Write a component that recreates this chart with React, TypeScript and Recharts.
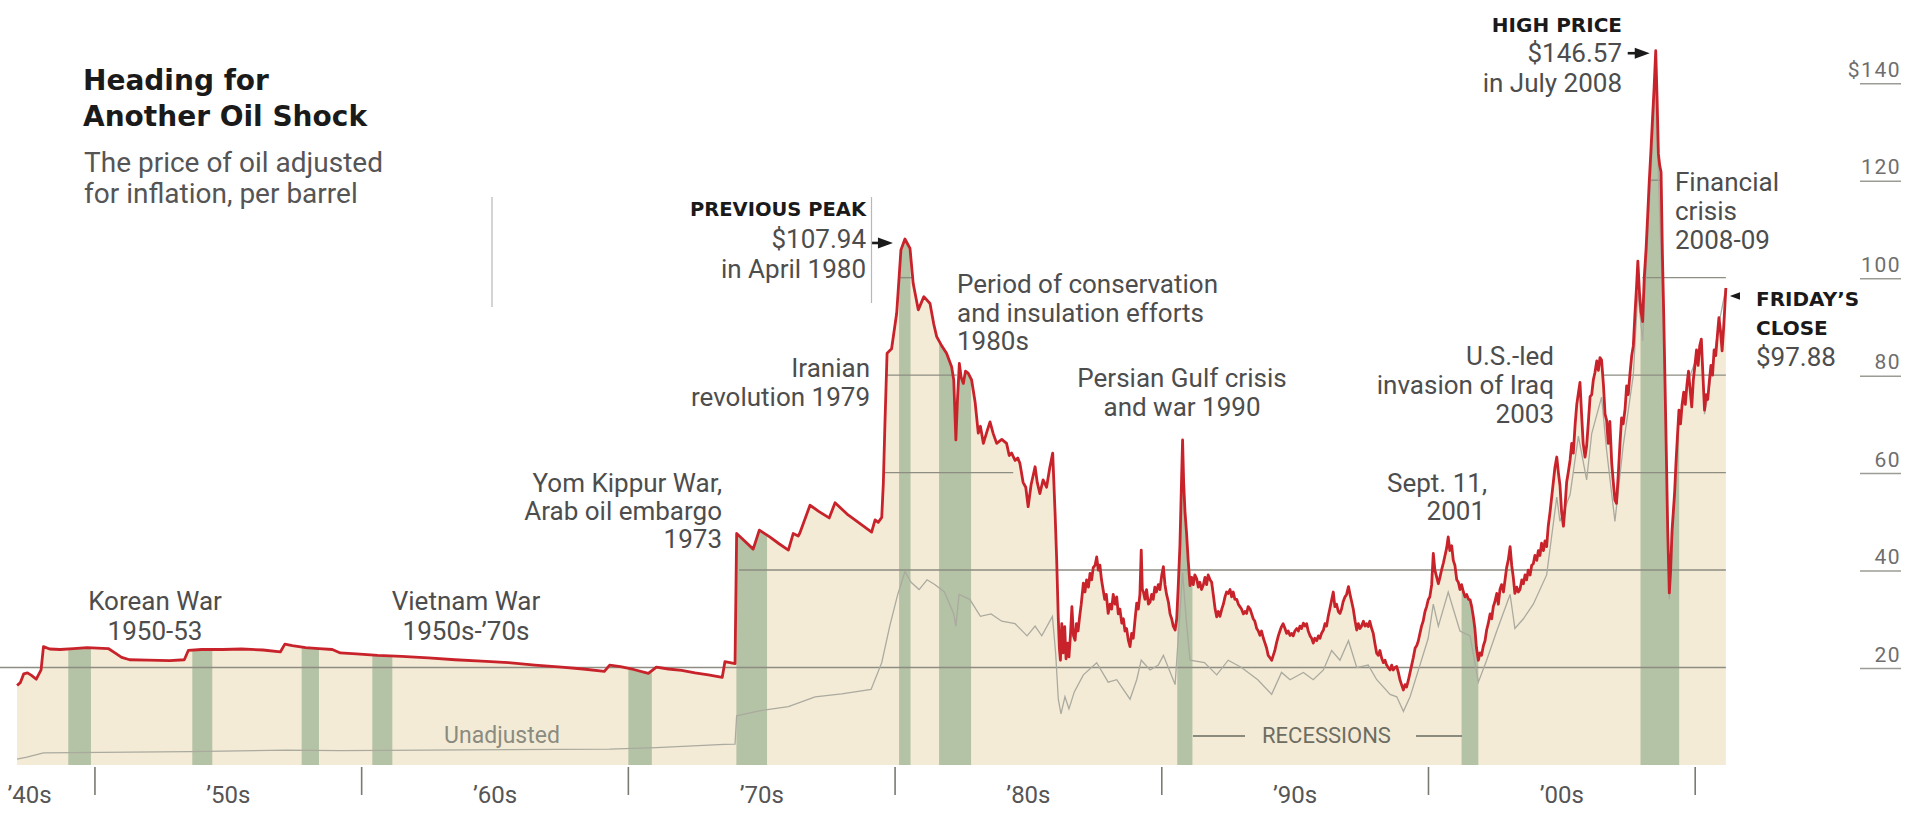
import React from 'react';
import { ComposedChart, Area, Line, XAxis, YAxis } from 'recharts';

type Pt = [number, number];

// Oil price per barrel adjusted for inflation (2011 dollars): [year, price]
const adjusted1947to1973: Pt[] = [
  [1947.08, 16.3], [1947.2, 16.9], [1947.33, 18.7], [1947.47, 18.9], [1947.62, 18.4], [1947.8, 17.6],
  [1947.98, 19.5], [1948.07, 24.3], [1948.3, 23.8], [1948.7, 23.7], [1949.2, 23.9], [1949.7, 24.1],
  [1950.1, 24.0], [1950.5, 23.9], [1950.75, 23.0], [1951.0, 22.1], [1951.3, 21.6], [1952.0, 21.5],
  [1952.8, 21.4], [1953.35, 21.6], [1953.5, 23.5], [1954.0, 23.7], [1954.8, 23.7], [1955.5, 23.8],
  [1956.3, 23.6], [1956.95, 23.2], [1957.12, 24.8], [1957.4, 24.5], [1957.9, 24.1], [1958.4, 23.9],
  [1958.9, 23.7], [1959.2, 23.0], [1959.8, 22.8], [1960.6, 22.5], [1961.5, 22.3], [1962.5, 22.0],
  [1963.5, 21.6], [1964.5, 21.3], [1965.5, 21.0], [1966.5, 20.5], [1967.5, 20.1], [1968.3, 19.7],
  [1969.1, 19.2], [1969.3, 20.5], [1969.7, 20.2], [1970.2, 19.6], [1970.75, 18.8], [1971.05, 20.1],
  [1971.5, 19.7], [1972.0, 19.4], [1972.5, 18.9], [1973.0, 18.5], [1973.52, 18.0], [1973.62, 21.2],
  [1974.0, 20.8],
];

const adjusted1974to1985: Pt[] = [
  [1974.06, 47.5], [1974.35, 46.0], [1974.68, 44.3], [1974.91, 48.2], [1975.3, 46.8], [1975.65, 45.4],
  [1976.0, 44.1], [1976.18, 47.5], [1976.37, 47.0], [1976.43, 47.6], [1976.81, 53.3], [1977.15, 52.0],
  [1977.53, 50.7], [1977.75, 53.8], [1978.2, 51.5], [1978.7, 49.5], [1979.12, 47.8], [1979.25, 50.3],
  [1979.37, 49.8], [1979.5, 50.8], [1979.56, 57.8], [1979.62, 70.0], [1979.7, 84.5], [1979.87, 85.4],
  [1980.06, 92.7], [1980.22, 105.7], [1980.37, 107.94], [1980.48, 106.8], [1980.56, 106.0], [1980.68, 98.8],
  [1980.87, 93.4], [1981.08, 96.1], [1981.31, 94.7], [1981.45, 90.5], [1981.56, 87.9], [1981.75, 86.0],
  [1981.93, 84.5], [1982.12, 81.7], [1982.2, 79.0], [1982.28, 66.7], [1982.34, 75.0], [1982.41, 82.4],
  [1982.48, 79.5], [1982.56, 78.3], [1982.64, 80.8], [1982.74, 80.4], [1982.87, 79.0], [1983.0, 74.5],
  [1983.12, 68.1], [1983.2, 69.5], [1983.31, 66.0], [1983.45, 68.5], [1983.56, 70.4], [1983.68, 68.0],
  [1983.81, 66.0], [1984.0, 66.8], [1984.18, 66.0], [1984.28, 63.5], [1984.37, 64.0], [1984.5, 62.5],
  [1984.6, 63.0], [1984.68, 61.9], [1984.8, 58.0], [1984.9, 57.0], [1984.99, 53.0], [1985.1, 57.5],
  [1985.25, 61.2], [1985.33, 58.0], [1985.43, 55.7], [1985.55, 58.5], [1985.68, 57.0], [1985.8, 61.0],
  [1985.91, 64.0], [1986.0, 51.6],
];

const adjusted1986to1999: Pt[] = [
  [1986.06, 42], [1986.12, 30], [1986.16, 24], [1986.2, 21.5], [1986.25, 29], [1986.3, 23], [1986.36, 28.4],
  [1986.41, 21.8], [1986.47, 25], [1986.52, 22.2], [1986.58, 27], [1986.63, 32.5], [1986.69, 26.5],
  [1986.75, 25.6], [1986.8, 29], [1986.86, 27.5], [1986.92, 30.4], [1986.98, 33], [1987.06, 37.3],
  [1987.12, 35.5], [1987.18, 38], [1987.25, 36.5], [1987.31, 39.3], [1987.37, 38], [1987.43, 40.5],
  [1987.5, 41], [1987.56, 42.7], [1987.62, 40], [1987.68, 41], [1987.74, 38], [1987.8, 36], [1987.86, 34],
  [1987.92, 35], [1987.99, 31.1], [1988.06, 33], [1988.12, 32], [1988.18, 35], [1988.25, 33], [1988.31, 34.5],
  [1988.37, 31], [1988.43, 32], [1988.5, 29.1], [1988.56, 30], [1988.62, 27.5], [1988.68, 28], [1988.75, 25.5],
  [1988.81, 24.3], [1988.87, 27], [1988.93, 26], [1989.0, 30], [1989.06, 33.2], [1989.12, 32], [1989.18, 35],
  [1989.23, 44.1], [1989.27, 36], [1989.31, 35.5], [1989.37, 34], [1989.43, 36], [1989.5, 33], [1989.56, 33.4],
  [1989.62, 35], [1989.68, 34], [1989.74, 36.5], [1989.8, 35.5], [1989.87, 37], [1989.93, 36], [1990.0, 39],
  [1990.06, 40.7], [1990.12, 37], [1990.18, 35], [1990.25, 33.4], [1990.31, 31], [1990.37, 30], [1990.43, 28.5],
  [1990.5, 27.7], [1990.56, 30], [1990.62, 37], [1990.68, 45], [1990.73, 56], [1990.78, 66.7], [1990.82, 58],
  [1990.87, 52], [1990.93, 47.5], [1990.99, 42], [1991.06, 36.8], [1991.12, 38.5], [1991.18, 37], [1991.24, 39],
  [1991.31, 38.2], [1991.37, 36.5], [1991.43, 37.5], [1991.49, 36], [1991.56, 37], [1991.62, 38.5], [1991.68, 37],
  [1991.74, 39], [1991.81, 38], [1991.87, 37.5], [1991.93, 35], [1992.0, 32], [1992.06, 30.4], [1992.12, 31.5],
  [1992.18, 30.5], [1992.25, 32], [1992.31, 33], [1992.37, 34.5], [1992.43, 35.5], [1992.49, 35.2], [1992.56, 36],
  [1992.62, 34.5], [1992.68, 35.5], [1992.74, 34], [1992.81, 34], [1992.87, 33], [1992.93, 32.5], [1992.99, 32],
  [1993.06, 31], [1993.12, 31.5], [1993.18, 31.1], [1993.24, 32.5], [1993.31, 32], [1993.37, 31], [1993.43, 30],
  [1993.49, 29.5], [1993.56, 28], [1993.62, 27.5], [1993.68, 26.6], [1993.74, 27.5], [1993.81, 26], [1993.87, 25],
  [1993.93, 24], [1993.99, 22.5], [1994.06, 22], [1994.12, 21.5], [1994.18, 22.5], [1994.24, 23.5], [1994.3, 25],
  [1994.37, 26.5], [1994.43, 27.5], [1994.49, 28.4], [1994.55, 29], [1994.62, 28], [1994.68, 27], [1994.74, 27.5],
  [1994.81, 26.6], [1994.87, 27], [1994.93, 26.5], [1994.99, 27.5], [1995.06, 28], [1995.12, 27.5], [1995.18, 28.5],
  [1995.24, 28], [1995.31, 29.1], [1995.37, 28.5], [1995.43, 29], [1995.49, 27.5], [1995.56, 26.5], [1995.62, 26],
  [1995.68, 25], [1995.74, 26], [1995.81, 25.5], [1995.87, 26.5], [1995.93, 26], [1995.99, 27], [1996.06, 27.7],
  [1996.12, 29], [1996.18, 28.5], [1996.24, 30.5], [1996.3, 32], [1996.37, 33.9], [1996.43, 35.5], [1996.49, 32.5],
  [1996.55, 33], [1996.62, 31.5], [1996.68, 31.1], [1996.74, 32], [1996.8, 33.5], [1996.87, 34.5], [1996.93, 35],
  [1997.0, 36.6], [1997.06, 35], [1997.12, 33.5], [1997.18, 32], [1997.25, 29.5], [1997.31, 27.7], [1997.37, 29],
  [1997.43, 28], [1997.49, 28.5], [1997.56, 29.5], [1997.62, 28.5], [1997.68, 29], [1997.74, 28.4], [1997.8, 29.5],
  [1997.87, 28], [1997.93, 27], [1997.99, 25], [1998.06, 22.9], [1998.12, 22.5], [1998.18, 23.5], [1998.24, 22],
  [1998.31, 21], [1998.37, 21.5], [1998.43, 20.5], [1998.49, 20], [1998.56, 19.5], [1998.62, 20.5], [1998.68, 19.5],
  [1998.74, 20], [1998.81, 20.2], [1998.87, 19], [1998.93, 17.5], [1998.99, 16.5], [1999.06, 15.4], [1999.12, 16.5],
  [1999.18, 16], [1999.25, 17.5], [1999.31, 19], [1999.37, 20.5], [1999.43, 22], [1999.5, 24], [1999.56, 24.5],
  [1999.62, 25.5], [1999.68, 27], [1999.74, 28.5], [1999.8, 29.5], [1999.87, 31.5], [1999.93, 32.5], [1999.99, 33.9],
];

const adjusted2000to2011: Pt[] = [
  [2000.05, 34.5], [2000.12, 37], [2000.18, 43.4], [2000.24, 40], [2000.31, 38.5], [2000.37, 37.2], [2000.43, 38.5],
  [2000.49, 40], [2000.56, 41.5], [2000.62, 43], [2000.68, 44.5], [2000.74, 46.8], [2000.8, 44], [2000.87, 45],
  [2000.93, 42], [2000.99, 41], [2001.06, 38], [2001.12, 37.5], [2001.18, 36], [2001.24, 37], [2001.31, 35.5],
  [2001.37, 34.5], [2001.43, 35], [2001.5, 34], [2001.56, 33.9], [2001.62, 32.5], [2001.68, 30.5], [2001.74, 28],
  [2001.8, 24], [2001.87, 21.5], [2001.93, 23], [2001.99, 22.5], [2002.06, 24.5], [2002.12, 25.5], [2002.18, 27.7],
  [2002.24, 29], [2002.31, 31], [2002.37, 30], [2002.43, 32.5], [2002.49, 33.5], [2002.56, 35.2], [2002.62, 33],
  [2002.68, 36], [2002.74, 37], [2002.81, 35.5], [2002.87, 38], [2002.93, 40.5], [2002.99, 42], [2003.06, 44.8],
  [2003.12, 41], [2003.18, 38.5], [2003.24, 35.2], [2003.31, 36.5], [2003.37, 35.5], [2003.43, 36], [2003.5, 38],
  [2003.56, 37.2], [2003.62, 39], [2003.68, 38], [2003.74, 40], [2003.81, 39], [2003.87, 41], [2003.93, 41.3],
  [2003.99, 43], [2004.06, 42], [2004.12, 44], [2004.18, 43], [2004.24, 45.5], [2004.31, 44], [2004.37, 46],
  [2004.43, 44.8], [2004.49, 49], [2004.56, 52], [2004.62, 55], [2004.68, 58], [2004.74, 61], [2004.81, 63.2],
  [2004.87, 60], [2004.93, 57.4], [2004.99, 52], [2005.06, 49], [2005.12, 53], [2005.18, 58], [2005.24, 60],
  [2005.31, 62.6], [2005.37, 66], [2005.43, 64], [2005.5, 70], [2005.56, 74], [2005.62, 76.3], [2005.68, 78.5],
  [2005.74, 72], [2005.8, 66], [2005.87, 63.2], [2005.93, 65.5], [2005.99, 70], [2006.06, 75.6], [2006.12, 76],
  [2006.18, 79], [2006.24, 80.5], [2006.31, 82.9], [2006.37, 81], [2006.43, 83.6], [2006.49, 83.1], [2006.56, 78],
  [2006.62, 72], [2006.68, 70.7], [2006.74, 66], [2006.8, 70.5], [2006.87, 62], [2006.93, 58], [2006.99, 54.4],
  [2007.05, 53.7], [2007.12, 60], [2007.18, 66], [2007.24, 71.2], [2007.3, 70], [2007.37, 73], [2007.43, 77.8],
  [2007.49, 76], [2007.55, 80], [2007.62, 84], [2007.68, 86], [2007.74, 92.4], [2007.8, 98], [2007.85, 103.4],
  [2007.91, 97], [2007.97, 93], [2008.03, 91], [2008.09, 100], [2008.16, 106], [2008.22, 112.9], [2008.28, 120],
  [2008.34, 126], [2008.4, 132.6], [2008.46, 139], [2008.52, 146.57], [2008.57, 137], [2008.62, 125.4],
  [2008.67, 123], [2008.72, 121.7], [2008.77, 105], [2008.82, 92.5], [2008.87, 78], [2008.92, 63.3], [2008.97, 48],
  [2009.03, 35.3], [2009.08, 40], [2009.13, 48], [2009.18, 52], [2009.23, 56], [2009.28, 62], [2009.33, 67],
  [2009.39, 72.8], [2009.45, 70], [2009.51, 74], [2009.57, 76.5], [2009.63, 74], [2009.69, 78], [2009.75, 80.8],
  [2009.81, 77], [2009.87, 73.5], [2009.93, 79], [2009.99, 82], [2010.05, 85.2], [2010.11, 82], [2010.17, 86],
  [2010.23, 87.4], [2010.29, 80], [2010.35, 72.8], [2010.41, 76], [2010.47, 75], [2010.53, 78.7], [2010.59, 82],
  [2010.65, 80], [2010.71, 85.2], [2010.77, 84], [2010.83, 88], [2010.89, 91.8], [2010.95, 89], [2011.01, 85],
  [2011.07, 90], [2011.15, 97.88],
];

// Nominal price per barrel, not adjusted for inflation: [year, price]
const unadjustedPrice: Pt[] = [
  [1947.08, 1.2], [1947.45, 1.6], [1948.07, 2.5], [1953.5, 2.75], [1957.15, 3.05], [1959.2, 2.95],
  [1969.3, 3.25], [1971.05, 3.55], [1973.6, 4.25], [1974.0, 4.3], [1974.06, 10.1], [1975.0, 11.2],
  [1976.0, 12.0], [1977.0, 14.0], [1978.0, 14.6], [1979.1, 15.5], [1979.5, 21], [1979.8, 28.5],
  [1980.1, 35], [1980.37, 39.7], [1980.6, 37.5], [1980.9, 36], [1981.2, 38], [1981.5, 37], [1981.85, 35.5],
  [1982.2, 31], [1982.28, 28.5], [1982.4, 35], [1982.8, 34], [1983.2, 30.5], [1983.6, 31], [1984.0, 29.5],
  [1984.5, 29], [1984.95, 26.5], [1985.25, 28.5], [1985.5, 26.5], [1985.9, 30.5], [1986.02, 23], [1986.12, 13.5],
  [1986.22, 10.5], [1986.37, 14], [1986.52, 11.5], [1986.72, 15], [1987.06, 18.5], [1987.56, 21], [1987.99, 17],
  [1988.31, 17.5], [1988.81, 13.5], [1989.06, 17.5], [1989.23, 21.5], [1989.56, 19.5], [1989.87, 20.5],
  [1990.06, 22.5], [1990.5, 16.5], [1990.78, 39.5], [1990.93, 29], [1991.06, 21.5], [1991.6, 21], [1992.06, 18.5],
  [1992.49, 21.5], [1992.99, 20], [1993.6, 17.5], [1994.12, 14.5], [1994.49, 19], [1994.81, 17.5], [1995.31, 19],
  [1995.68, 17.5], [1996.06, 19.5], [1996.37, 23.5], [1996.68, 21.5], [1997.0, 25.5], [1997.31, 20], [1997.74, 20.5],
  [1998.06, 17.5], [1998.56, 14.5], [1998.81, 14], [1999.06, 11], [1999.31, 14], [1999.68, 20.5], [1999.99, 26],
  [2000.18, 33], [2000.37, 28.5], [2000.74, 35.5], [2000.93, 32], [2001.18, 27.5], [2001.56, 26.5], [2001.87, 17],
  [2002.18, 21.5], [2002.56, 27.5], [2003.06, 35], [2003.24, 28], [2003.56, 30], [2003.93, 33], [2004.43, 39],
  [2004.81, 55], [2004.93, 50], [2005.31, 55.5], [2005.62, 67.5], [2005.93, 58.5], [2006.12, 68], [2006.49, 75.5],
  [2006.68, 64.5], [2006.99, 50], [2007.3, 65.5], [2007.68, 80], [2007.85, 97], [2008.03, 87], [2008.22, 108.5],
  [2008.4, 128], [2008.52, 141.5], [2008.62, 121], [2008.82, 89], [2008.92, 61], [2009.03, 34], [2009.23, 54.5],
  [2009.39, 71], [2009.57, 74.5], [2009.75, 79], [2010.05, 83.5], [2010.23, 86], [2010.35, 72],
  [2010.53, 77.5], [2010.71, 84], [2010.89, 90.5], [2011.15, 97.88],
];

// Recessions: [start year, end year]
const recessions: Pt[] = [
  [1949.0, 1949.85], [1953.65, 1954.4], [1957.75, 1958.4], [1960.4, 1961.15], [1970.0, 1970.88],
  [1974.05, 1975.2], [1980.15, 1980.58], [1981.65, 1982.85], [1990.58, 1991.15], [2001.24, 2001.87],
  [2007.95, 2009.4],
];

// Horizontal price rules: [price level, from year, to year]
const priceRules: [number, number, number][] = [
  [20, 1946.44, 2011.15], [40, 1974.15, 2011.15], [60, 1979.62, 1984.43], [60, 2005.43, 2011.15],
  [80, 1979.68, 1982.31], [80, 2006.58, 2011.15], [100, 1980.15, 1980.63], [100, 2008.02, 2011.15],
  [120, 2008.28, 2008.72],
];

const priceTicks = [20, 40, 60, 80, 100, 120, 140];
const decadeMarks = [1950, 1960, 1970, 1980, 1990, 2000, 2010];
const decadeLabels = [
  { year: 1947.55, text: '’40s' }, { year: 1955, text: '’50s' }, { year: 1965, text: '’60s' },
  { year: 1975, text: '’70s' }, { year: 1985, text: '’80s' }, { year: 1995, text: '’90s' },
  { year: 2005, text: '’00s' },
];

const YEAR_MIN = 1946.44;
const YEAR_MAX = 2011.68;
const PRICE_MAX = 150;

const RED = '#c8232b';
const BEIGE = '#f4ebd7';
const SAGE = '#b4c2a5';
const RULE = '#8d8d82';
const TEXT = '#4d4d4d';
const SANS = 'Roboto, "Noto Sans", sans-serif';
const BOLD = '"DejaVu Sans", Roboto, sans-serif';

const toRows = (pts: Pt[]) => pts.map(([year, price]) => ({ year, price }));
const adjustedRows = toRows([...adjusted1947to1973, ...adjusted1974to1985, ...adjusted1986to1999, ...adjusted2000to2011]);
const unadjustedRows = toRows(unadjustedPrice);

const peakOf = (pts: Pt[]) => pts.reduce((m, p) => (p[1] > m[1] ? p : m));
const peak1980 = peakOf(adjusted1974to1985);
const peak2008 = peakOf(adjusted2000to2011);
const lastClose = adjusted2000to2011[adjusted2000to2011.length - 1];
const money = (v: number) => `$${v.toFixed(2)}`;

const allTicks = [...decadeLabels.map((d) => d.year), ...decadeMarks].sort((a, b) => a - b);

const YearTick = (props: any) => {
  const { x, y, payload } = props;
  const v = payload.value as number;
  if (decadeMarks.includes(v)) {
    return <line x1={x} x2={x} y1={y + 2} y2={y + 30} stroke="#7a7a72" strokeWidth={1.6} />;
  }
  const lab = decadeLabels.find((d) => d.year === v);
  return (
    <text x={x} y={y + 38} textAnchor="middle" fontFamily={SANS} fontSize={24} fill="#555">
      {lab ? lab.text : ''}
    </text>
  );
};

const PriceTick = (props: any) => {
  const { x, y, payload } = props;
  const v = payload.value as number;
  const label = v === priceTicks[priceTicks.length - 1] ? `$${v}` : `${v}`;
  return (
    <g>
      <line x1={x + 120} x2={x + 161} y1={y + 1} y2={y + 1} stroke="#9c9c96" strokeWidth={1.5} />
      <text x={x + 161} y={y - 6} textAnchor="end" fontFamily={SANS} fontSize={21} fill="#6e6e6e" letterSpacing={1.5}>
        {label}
      </text>
    </g>
  );
};

// Pointer arrows next to labelled points
const pointer = (dir: 'left' | 'right', dx: number, dy: number) => (p: any) => {
  const tx = p.cx + dx;
  const ty = p.cy + dy;
  const s = dir === 'right' ? -1 : 1;
  return (
    <g key={`ptr-${dir}-${p.index}`}>
      <line x1={tx + s * 22} y1={ty} x2={tx + s * 10} y2={ty} stroke="#1a1a1a" strokeWidth={2.6} />
      <polygon points={`${tx + s * 15},${ty - 5.5} ${tx},${ty} ${tx + s * 15},${ty + 5.5}`} fill="#1a1a1a" />
    </g>
  );
};

const Txt = ({ x, y, anchor = 'start', size = 26, bold = false, color = TEXT, children }: any) => (
  <text
    x={x}
    y={y}
    textAnchor={anchor}
    fontFamily={bold ? BOLD : SANS}
    fontWeight={bold ? 700 : 400}
    fontSize={size}
    fill={color}
  >
    {children}
  </text>
);

export default function App() {
  return (
    <div style={{ position: 'absolute', left: 0, top: 0, width: 1911, height: 814, background: '#fff' }}>
      <ComposedChart width={1911} height={814} margin={{ top: 34, right: 0, bottom: 0, left: 0 }}>
        <XAxis
          dataKey="year"
          type="number"
          domain={[YEAR_MIN, YEAR_MAX]}
          allowDataOverflow
          ticks={allTicks}
          interval={0}
          height={49}
          axisLine={false}
          tickLine={false}
          tickSize={0}
          tickMargin={0}
          tick={<YearTick />}
        />
        <YAxis
          orientation="right"
          type="number"
          domain={[0, PRICE_MAX]}
          allowDataOverflow
          ticks={priceTicks}
          interval={0}
          width={171}
          axisLine={false}
          tickLine={false}
          tickSize={0}
          tickMargin={0}
          tick={<PriceTick />}
        />

        {/* area under the adjusted price */}
        <Area
          data={adjustedRows}
          dataKey="price"
          type="linear"
          fill={BEIGE}
          fillOpacity={1}
          stroke="none"
          isAnimationActive={false}
        />
        {/* recession bands */}
        {recessions.map(([s, e], i) => (
          <Area
            key={`rec-${i}`}
            data={[{ year: s, band: PRICE_MAX }, { year: e, band: PRICE_MAX }]}
            dataKey="band"
            type="linear"
            fill={SAGE}
            fillOpacity={1}
            stroke="none"
            isAnimationActive={false}
          />
        ))}
        {/* blank out everything above the adjusted price */}
        <Area
          data={adjustedRows}
          dataKey={(d: any) => [d.price, PRICE_MAX]}
          type="linear"
          fill="#ffffff"
          fillOpacity={1}
          stroke="none"
          isAnimationActive={false}
        />

        {priceRules.map(([level, from, to], i) => (
          <Line
            key={`rule-${i}`}
            data={[{ year: from, level }, { year: to, level }]}
            dataKey="level"
            type="linear"
            stroke={RULE}
            strokeWidth={1.4}
            dot={false}
            activeDot={false}
            isAnimationActive={false}
          />
        ))}

        <Line
          data={unadjustedRows}
          dataKey="price"
          type="linear"
          stroke="#aaaa9f"
          strokeWidth={1.3}
          dot={false}
          activeDot={false}
          isAnimationActive={false}
        />
        <Line
          data={adjustedRows}
          dataKey="price"
          type="linear"
          stroke={RED}
          strokeWidth={2.8}
          strokeLinejoin="round"
          dot={false}
          activeDot={false}
          isAnimationActive={false}
        />

        <Line
          data={[{ year: peak1980[0], price: peak1980[1] }]}
          dataKey="price"
          stroke="none"
          dot={pointer('right', -12, 4)}
          activeDot={false}
          isAnimationActive={false}
        />
        <Line
          data={[{ year: peak2008[0], price: peak2008[1] }]}
          dataKey="price"
          stroke="none"
          dot={pointer('right', -6, 2.5)}
          activeDot={false}
          isAnimationActive={false}
        />
        <Line
          data={[{ year: lastClose[0], price: lastClose[1] }]}
          dataKey="price"
          stroke="none"
          dot={pointer('left', 4, 8)}
          activeDot={false}
          isAnimationActive={false}
        />
      </ComposedChart>

      <svg width={1911} height={814} style={{ position: 'absolute', left: 0, top: 0, pointerEvents: 'none' }}>
        <Txt x={83} y={90} size={28} bold color="#1a1a1a">Heading for</Txt>
        <Txt x={83} y={126} size={28} bold color="#1a1a1a">Another Oil Shock</Txt>
        <Txt x={84} y={172} size={28} color="#555">The price of oil adjusted</Txt>
        <Txt x={84} y={203} size={28} color="#555">for inflation, per barrel</Txt>

        <line x1={492} x2={492} y1={197} y2={307} stroke="#b8b8b8" strokeWidth={1.2} />
        <line x1={871.5} x2={871.5} y1={197} y2={303} stroke="#b8b8b8" strokeWidth={1.2} />

        <Txt x={155} y={610} anchor="middle">Korean War</Txt>
        <Txt x={155} y={640} anchor="middle">1950-53</Txt>
        <Txt x={466} y={610} anchor="middle">Vietnam War</Txt>
        <Txt x={466} y={640} anchor="middle">1950s-’70s</Txt>
        <Txt x={502} y={743} anchor="middle" size={23} color="#8b8b80">Unadjusted</Txt>

        <Txt x={722} y={492} anchor="end">Yom Kippur War,</Txt>
        <Txt x={722} y={520} anchor="end">Arab oil embargo</Txt>
        <Txt x={722} y={548} anchor="end">1973</Txt>

        <Txt x={870} y={377} anchor="end">Iranian</Txt>
        <Txt x={870} y={406} anchor="end">revolution 1979</Txt>

        <Txt x={866} y={216} anchor="end" size={19.5} bold color="#1a1a1a">PREVIOUS PEAK</Txt>
        <Txt x={866} y={248} anchor="end">{money(peak1980[1])}</Txt>
        <Txt x={866} y={278} anchor="end">in April 1980</Txt>

        <Txt x={957} y={293}>Period of conservation</Txt>
        <Txt x={957} y={322}>and insulation efforts</Txt>
        <Txt x={957} y={350}>1980s</Txt>

        <Txt x={1182} y={387} anchor="middle">Persian Gulf crisis</Txt>
        <Txt x={1182} y={416} anchor="middle">and war 1990</Txt>

        <Txt x={1554} y={365} anchor="end">U.S.-led</Txt>
        <Txt x={1554} y={394} anchor="end">invasion of Iraq</Txt>
        <Txt x={1554} y={423} anchor="end">2003</Txt>

        <Txt x={1487} y={492} anchor="end">Sept. 11,</Txt>
        <Txt x={1485} y={520} anchor="end">2001</Txt>

        <Txt x={1622} y={32} anchor="end" size={20} bold color="#1a1a1a">HIGH PRICE</Txt>
        <Txt x={1622} y={62} anchor="end">{money(peak2008[1])}</Txt>
        <Txt x={1622} y={92} anchor="end">in July 2008</Txt>

        <Txt x={1675} y={191}>Financial</Txt>
        <Txt x={1675} y={220}>crisis</Txt>
        <Txt x={1675} y={249}>2008-09</Txt>

        <Txt x={1756} y={306} size={20} bold color="#1a1a1a">FRIDAY’S</Txt>
        <Txt x={1756} y={335} size={20} bold color="#1a1a1a">CLOSE</Txt>
        <Txt x={1756} y={366}>{money(lastClose[1])}</Txt>

        <line x1={1193} x2={1245} y1={736} y2={736} stroke="#8b8b7d" strokeWidth={2} />
        <line x1={1416} x2={1462} y1={736} y2={736} stroke="#8b8b7d" strokeWidth={2} />
        <Txt x={1262} y={743} size={22} color="#6d6d62">RECESSIONS</Txt>
      </svg>
    </div>
  );
}
